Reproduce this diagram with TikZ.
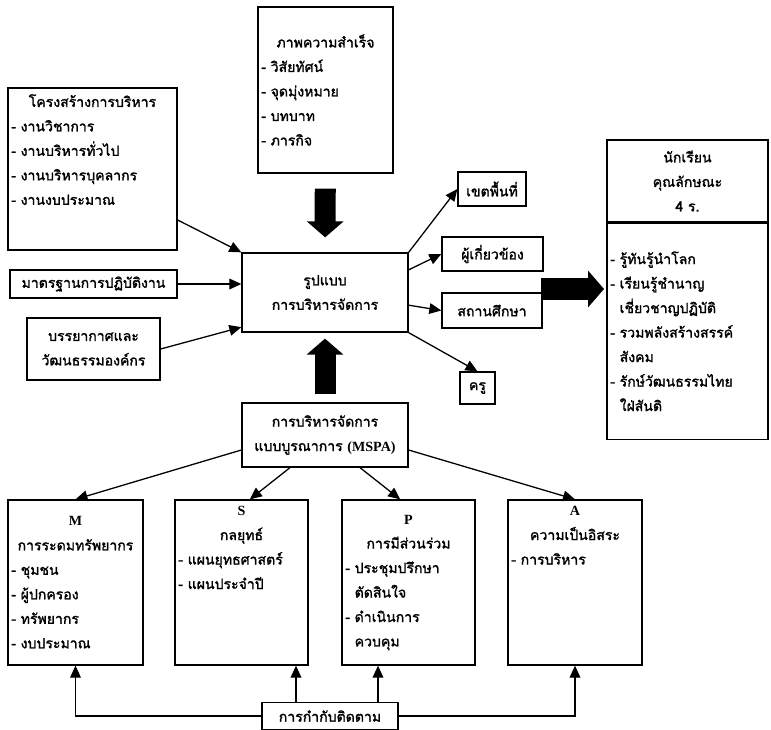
\documentclass[tikz,border=0pt]{standalone}
\usepackage{fontspec}
\setmainfont{Liberation Serif}
\newfontfamily\thaifont[Script=Thai, FakeBold=1.6]{Loma}
\usetikzlibrary{positioning,arrows.meta}

\begin{document}
\begin{tikzpicture}[
  x=0.03cm, y=-0.03cm,
  box/.style={draw, line width=1.1pt, inner sep=0pt, align=center,
    font=\thaifont\fontsize{12}{20.9}\selectfont},
  listtxt/.style={inner sep=0pt, align=left,
    font=\thaifont\fontsize{12}{20.9}\selectfont},
  arr/.style={line width=1.1pt, -{Triangle[length=0.36cm,width=0.32cm]}},
  bigarr/.style={line width=0.63cm, -{Triangle[length=0.48cm,width=1.08cm]}}
]
\useasboundingbox (0,0) rectangle (771,730);

% Top and left inputs
\node[box, minimum width=4.05cm, minimum height=4.98cm, text width=3.85cm, align=left] (succ) at (325.5,90)
  {{\centering ภาพความสำเร็จ\par}- วิสัยทัศน์\\- จุดมุ่งหมาย\\- บทบาท\\- ภารกิจ};
\node[box, minimum width=5.07cm, minimum height=4.86cm] (struct) at (92.5,169) {};
\node[listtxt, text width=4.87cm, below=0.2cm of struct.north] (struct-t)
  {{\centering โครงสร้างการบริหาร\par}- งานวิชาการ\\- งานบริหารทั่วไป\\- งานบริหารบุคลากร\\- งานงบประมาณ};
\node[box, minimum width=5.01cm, minimum height=0.84cm] (std) at (93.5,284) {มาตรฐานการปฏิบัติงาน};
\node[box, minimum width=3.99cm, minimum height=1.86cm] (atmo) at (93.5,349) {บรรยากาศและ\\วัฒนธรรมองค์กร};

% Centre
\node[box, minimum width=4.98cm, minimum height=2.37cm] (model) at (325,292.5) {รูปแบบ\\การบริหารจัดการ};

% Right outputs
\node[box, minimum width=2.04cm, minimum height=1.02cm] (zone) at (492,189) {เขตพื้นที่};
\node[box, minimum width=3.03cm, minimum height=1.02cm] (stake) at (492.5,254) {ผู้เกี่ยวข้อง};
\node[box, minimum width=3.0cm, minimum height=1.05cm] (school) at (492,310.5) {สถานศึกษา};
\node[box, minimum width=1.05cm, minimum height=0.96cm] (teach) at (477.5,388) {ครู};

% Student box
\node[box, minimum width=4.83cm, minimum height=2.46cm] (stud) at (687.5,181) {นักเรียน\\คุณลักษณะ\\4 ร.};
\node[box, minimum width=4.83cm, minimum height=6.48cm, text width=4.63cm, align=left, below=0pt of stud] (studl)
  {- รู้ทันรู้นำโลก\\- เรียนรู้ชำนาญ\\\phantom{- }เชี่ยวชาญปฏิบัติ\\- รวมพลังสร้างสรรค์\\\phantom{- }สังคม\\- รักษ์วัฒนธรรมไทย\\\phantom{- }ใฝ่สันติ};

% MSPA
\node[box, minimum width=4.98cm, minimum height=1.92cm] (mspa) at (325,435) {การบริหารจัดการ\\แบบบูรณาการ {\rmfamily\bfseries (MSPA)}};
\node[box, minimum width=4.05cm, minimum height=4.95cm, text width=3.85cm, align=left] (mres) at (75.5,582.5)
  {{\centering{\rmfamily\bfseries M}\\การระดมทรัพยากร\par}- ชุมชน\\- ผู้ปกครอง\\- ทรัพยากร\\- งบประมาณ};
\node[box, minimum width=3.99cm, minimum height=4.95cm] (strat) at (241.5,582.5) {};
\node[listtxt, text width=3.79cm, below=0.2cm of strat.north] (strat-t)
  {{\centering{\rmfamily\bfseries S}\\กลยุทธ์\par}- แผนยุทธศาสตร์\\- แผนประจำปี};
\node[box, minimum width=3.99cm, minimum height=4.95cm, text width=3.79cm, align=left] (part) at (408.5,582.5)
  {{\centering{\rmfamily\bfseries P}\\การมีส่วนร่วม\par}- ประชุมปรึกษา\\\phantom{- }ตัดสินใจ\\- ดำเนินการ\\\phantom{- }ควบคุม};
\node[box, minimum width=4.02cm, minimum height=4.95cm] (auto) at (575,582.5) {};
\node[listtxt, text width=3.82cm, below=0.2cm of auto.north] (auto-t)
  {{\centering{\rmfamily\bfseries A}\\ความเป็นอิสระ\par}- การบริหาร};
\node[box, minimum width=4.08cm, minimum height=0.81cm] (ctrl) at (330,716) {การกำกับติดตาม};

% Inputs to centre
\draw[arr] ([yshift=-1.53cm]struct.east) -- (model.north west);
\draw[arr] (std.east) -- (std.east -| model.west);
\draw[arr] (atmo.east) -- ([yshift=-1.04cm]model.west);
\draw[bigarr, shorten <=0.45cm, shorten >=0.45cm] (succ) -- (model);
\draw[bigarr, shorten <=0.24cm, shorten >=0.18cm] (mspa) -- (model);

% Centre to outputs
\draw[arr] (model.north east) -- (zone.west);
\draw[arr] ([yshift=0.68cm]model.east) -- (stake.west);
\draw[arr] ([yshift=-0.38cm]model.east) -- (school.west);
\draw[arr] (model.south east) -- (teach.north);
\coordinate (bigstart) at (541,289);
\draw[bigarr, shorten >=2pt] (bigstart) -- (bigstart -| stud.west);

% MSPA parts
\draw[arr] ([yshift=-0.45cm]mspa.west) -- (mres.north);
\draw[arr] ([xshift=-1.05cm]mspa.south) -- ([xshift=0.25cm]strat.north);
\draw[arr] ([xshift=1.05cm]mspa.south) -- ([xshift=-0.25cm]part.north);
\draw[arr] ([yshift=-0.45cm]mspa.east) -- (auto.north);

% Monitoring
\draw[arr] (ctrl.west) -| (mres.south);
\draw[arr] (ctrl.east) -| (auto.south);
\draw[arr] ([xshift=-1.02cm]ctrl.north) -- ([xshift=-1.02cm]ctrl.north |- strat.south);
\draw[arr] ([xshift=1.44cm]ctrl.north) -- ([xshift=1.44cm]ctrl.north |- part.south);

\end{tikzpicture}
\end{document}
